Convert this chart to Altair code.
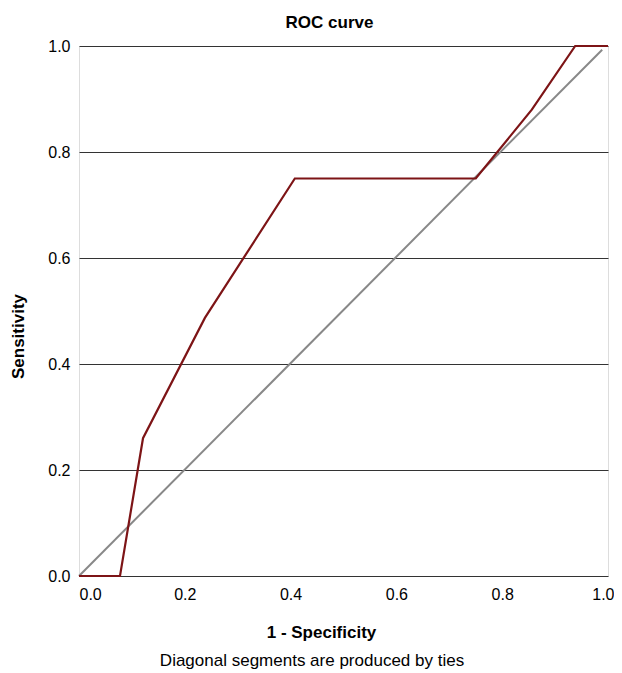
import altair as alt
import pandas as pd

# ROC curve (1 - specificity, sensitivity)
roc_fpr = [0.0, 0.0775, 0.121, 0.238, 0.408, 0.750, 0.856, 0.938, 1.0]
roc_tpr = [0.0, 0.0, 0.260, 0.487, 0.750, 0.750, 0.880, 1.0, 1.0]

# Reference diagonal
diag_x = [0.0, 0.989]
diag_y = [0.0, 0.993]

tick_values = [0.0, 0.2, 0.4, 0.6, 0.8, 1.0]

FONT = "Liberation Sans"

roc_df = pd.DataFrame({"fpr": roc_fpr, "tpr": roc_tpr, "order": list(range(len(roc_fpr)))})
diag_df = pd.DataFrame({"fpr": diag_x, "tpr": diag_y, "order": [0, 1]})

xscale = alt.Scale(domain=[0, 1], nice=False, zero=False)
yscale = alt.Scale(domain=[0, 1], nice=False, zero=False)

xaxis = alt.Axis(
    values=tick_values, format=".1f", grid=False, domain=False, ticks=False,
    labelFontSize=16, labelFont=FONT, labelColor="#000", labelPadding=10,
    labelFlush=False,
    labelAlign={"condition": [{"test": "datum.value == 0", "value": "left"},
                              {"test": "datum.value == 1", "value": "right"}],
                "value": "center"},
    labelOffset={"condition": {"test": "datum.value == 1", "value": 6}, "value": 0},
    title="1 - Specificity", titleFontSize=17, titleFont=FONT, titleFontWeight="bold",
    titleColor="#000", titleX=242, titleY=56, titleBaseline="middle",
)
yaxis = alt.Axis(
    values=tick_values, format=".1f", grid=True, gridColor="#333", gridWidth=1,
    gridOpacity=1, domain=False, ticks=False,
    labelFontSize=16, labelFont=FONT, labelColor="#000", labelPadding=9,
    title="Sensitivity", titleFontSize=17, titleFont=FONT, titleFontWeight="bold",
    titleColor="#000", titleX=-61, titleY=290, titleBaseline="middle", titleAngle=-90,
)

diag = alt.Chart(diag_df).mark_line(color="#888888", strokeWidth=2).encode(
    x=alt.X("fpr:Q", scale=xscale, axis=xaxis),
    y=alt.Y("tpr:Q", scale=yscale, axis=yaxis),
    order="order:O",
)

roc = alt.Chart(roc_df).mark_line(color="#7d1416", strokeWidth=2.2).encode(
    x=alt.X("fpr:Q", scale=xscale),
    y=alt.Y("tpr:Q", scale=yscale),
    order="order:O",
)

note = alt.Chart(pd.DataFrame({"t": ["Diagonal segments are produced by ties"]})).mark_text(
    font=FONT, fontSize=17, color="#000", baseline="middle", align="center"
).encode(x=alt.value(233), y=alt.value(615), text="t:N")

chart = alt.layer(diag, roc, note).properties(
    width=529, height=530,
    title=alt.TitleParams(
        "ROC curve", font=FONT, fontSize=17, fontWeight="bold", color="#000",
        anchor="middle", frame="group", dx=-14, offset=6,
    ),
    autosize=alt.AutoSizeParams(type="none"),
    padding={"left": 71, "top": 38, "right": 6, "bottom": 97},
).configure_view(stroke=None).configure(background="white")

chart.save("out.html", embed_options={"renderer": "svg", "actions": False})
